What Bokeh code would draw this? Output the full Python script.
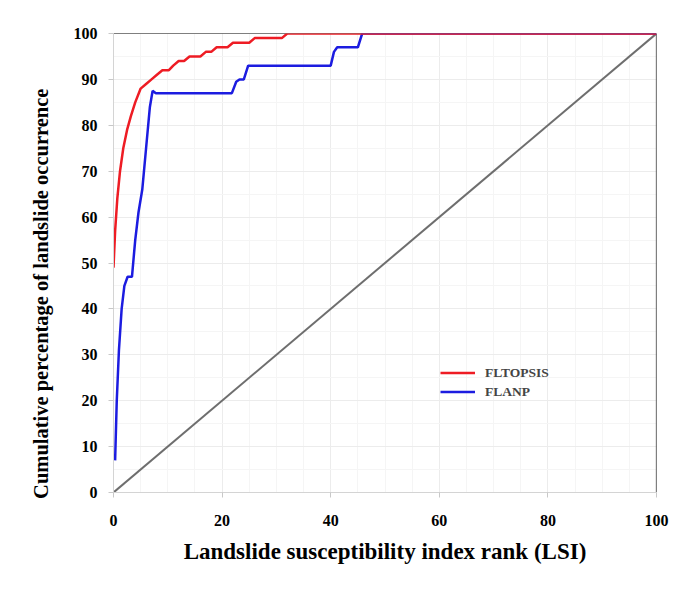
from bokeh.plotting import figure
from bokeh.models import Range1d, Span, Legend, LegendItem, FixedTicker
from bokeh.embed import file_html
from bokeh.resources import INLINE

# FLTOPSIS success-rate curve
fltopsis_x = [0, 0.3, 0.7, 1.2, 1.8, 2.5, 3.2, 4.0, 5.0, 6.0, 7.0, 8.0, 9.0, 10.2, 11.0,
              12.0, 13.0, 14.0, 15.0, 16.0, 17.0, 18.0, 19.0, 20.0, 21.0, 22.0, 23.0,
              24.0, 25.0, 26.0, 28.0, 30.0, 31.0, 32.0, 100]
fltopsis_y = [49, 57, 64, 70, 75, 79, 82, 85, 88, 89, 90, 91, 92, 92, 93,
              94, 94, 95, 95, 95, 96, 96, 97, 97, 97, 98, 98,
              98, 98, 99, 99, 99, 99, 100, 100]

# FLANP success-rate curve
flanp_x = [0.3, 0.6, 1.0, 1.5, 2.0, 2.6, 3.4, 4.0, 4.6, 5.3, 6.0, 6.7, 7.2, 7.8,
           21.8, 22.6, 23.2, 24.0, 24.8, 40.0, 40.6, 41.2, 45.0, 45.8, 100]
flanp_y = [7, 20, 31, 40, 45, 47, 47, 55, 61, 66, 75, 84, 87.5, 87,
           87, 89.5, 90, 90, 93, 93, 96, 97, 97, 100, 100]

# Random-model diagonal
diag_x = [0, 100]
diag_y = [0, 100]

x_ticks = [0, 20, 40, 60, 80, 100]
y_ticks = [0, 10, 20, 30, 40, 50, 60, 70, 80, 90, 100]

FONT = "Liberation Serif"

p = figure(frame_width=543, frame_height=459,
           x_range=Range1d(0, 100), y_range=Range1d(0, 100),
           output_backend="svg", toolbar_location=None,
           min_border_left=113, min_border_top=33, min_border_right=15,
           min_border_bottom=80)
p.outline_line_color = None
p.background_fill_color = "white"
p.border_fill_color = "white"

# grids
for g in (p.xgrid, p.ygrid):
    g.grid_line_color = "#ececec"
    g.grid_line_width = 1
    g.minor_grid_line_color = "#f5f5f5"
p.xaxis.ticker = FixedTicker(ticks=x_ticks, minor_ticks=list(range(0, 101, 5)))
p.yaxis.ticker = FixedTicker(ticks=y_ticks, minor_ticks=list(range(0, 101, 5)))

for ax in (p.xaxis, p.yaxis):
    ax.axis_line_color = "#d4d4d4"
    ax.major_tick_line_color = "#c8c8c8"
    ax.minor_tick_line_color = None
    ax.major_tick_in = 0
    ax.major_tick_out = 5
    ax.major_label_text_font = FONT
    ax.major_label_text_font_style = "bold"
    ax.major_label_text_font_size = "16px"
    ax.major_label_text_color = "black"
    ax.axis_label_text_font = FONT
    ax.axis_label_text_font_style = "bold"
    ax.axis_label_text_color = "black"

p.xaxis.axis_label_text_font_size = "23px"
p.yaxis.axis_label_text_font_size = "20.5px"
p.xaxis.axis_label = "Landslide susceptibility index rank (LSI)"
# trailing no-break spaces shift the rotated title down, as in the original
p.yaxis.axis_label = "Cumulative percentage of landslide occurrence" + "\u00a0" * 12
p.xaxis.major_label_standoff = 17
p.xaxis.axis_label_standoff = 10
p.yaxis.major_label_standoff = 11
p.yaxis.axis_label_standoff = 19

# black top / right border
p.add_layout(Span(location=100, dimension="width", line_color="black",
                  line_width=1, level="underlay"))
p.add_layout(Span(location=100, dimension="height", line_color="black",
                  line_width=1.2, level="underlay"))

p.line(diag_x, diag_y, line_color="#6e6e6e", line_width=2)
r_blue = p.line(flanp_x, flanp_y, line_color="#1c1ce0", line_width=2.5)
r_red = p.line(fltopsis_x, fltopsis_y, line_color="#ee1c24", line_width=2.5)

legend = Legend(items=[LegendItem(label="FLTOPSIS", renderers=[r_red]),
                       LegendItem(label="FLANP", renderers=[r_blue])],
                location=(327, 91), orientation="vertical",
                glyph_width=35, glyph_height=19, spacing=0, padding=0,
                margin=0, label_standoff=10, label_height=19,
                label_text_font=FONT, label_text_font_style="bold",
                label_text_font_size="13.5px",
                border_line_color=None, background_fill_alpha=0)
p.add_layout(legend)

open("out.html", "w").write(file_html(p, INLINE))
